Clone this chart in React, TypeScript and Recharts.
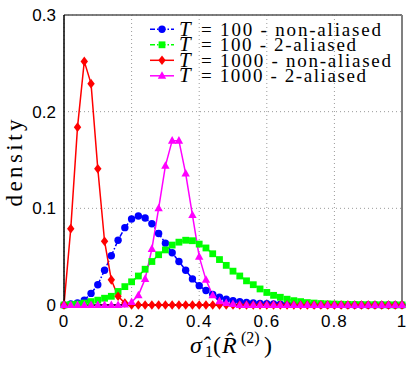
import { CartesianGrid, Label, Line, LineChart, ReferenceLine, XAxis, YAxis } from 'recharts'

// sigma_1 grid (step 0.02)
const sigmaGrid = [
  0, 0.02, 0.04, 0.06, 0.08, 0.1, 0.12, 0.14, 0.16, 0.18, 0.2, 0.22, 0.24, 0.26, 0.28, 0.3, 0.32, 0.34, 0.36, 0.38, 0.4,
  0.42, 0.44, 0.46, 0.48, 0.5, 0.52, 0.54, 0.56, 0.58, 0.6, 0.62, 0.64, 0.66, 0.68, 0.7, 0.72, 0.74, 0.76, 0.78, 0.8,
  0.82, 0.84, 0.86, 0.88, 0.9, 0.92, 0.94, 0.96, 0.98, 1,
]

const t100NonAliased = [
  0, 0.001, 0.002, 0.005, 0.012, 0.021, 0.036, 0.051, 0.067, 0.08, 0.089, 0.092, 0.09, 0.084, 0.074, 0.064, 0.054, 0.045,
  0.036, 0.027, 0.02, 0.015, 0.011, 0.008, 0.006, 0.0045, 0.0035, 0.0027, 0.002, 0.0016, 0.0013, 0.001, 0.0008, 0.0007,
  0.0006, 0.0005, 0.0004, 0.0003, 0.0003, 0.0002, 0.0002, 0.0002, 0.0001, 0.0001, 0.0001, 0.0001, 0.0001, 0, 0, 0, 0,
]

const t100Aliased2 = [
  0, 0.0005, 0.001, 0.002, 0.0035, 0.005, 0.007, 0.009, 0.014, 0.019, 0.024, 0.03, 0.037, 0.045, 0.052, 0.057, 0.062,
  0.065, 0.067, 0.0665, 0.063, 0.059, 0.053, 0.047, 0.041, 0.035, 0.03, 0.025, 0.021, 0.0166, 0.013, 0.01, 0.008, 0.006,
  0.0045, 0.0035, 0.0025, 0.002, 0.0015, 0.0012, 0.001, 0.0008, 0.0006, 0.0005, 0.0004, 0.0003, 0.0003, 0.0002, 0.0002,
  0.0001, 0.0001,
]

const t1000NonAliased = [
  0, 0.079, 0.184, 0.252, 0.229, 0.141, 0.066, 0.026, 0.009, 0.002, 0, 0, 0, 0, 0, 0, 0, 0, 0, 0, 0, 0, 0, 0, 0, 0, 0,
  0, 0, 0, 0, 0, 0, 0, 0, 0, 0, 0, 0, 0, 0, 0, 0, 0, 0, 0, 0, 0, 0, 0, 0,
]

const t1000Aliased2 = [
  0, 0, 0, 0, 0, 0, 0, 0, 0, 0.0005, 0.003, 0.01, 0.027, 0.058, 0.1, 0.144, 0.17, 0.17, 0.136, 0.093, 0.05, 0.026, 0.01,
  0.004, 0.002, 0.001, 0, 0, 0, 0, 0, 0, 0, 0, 0, 0, 0, 0, 0, 0, 0, 0, 0, 0, 0, 0, 0, 0, 0, 0, 0,
]

const xTicks = [0, 0.2, 0.4, 0.6, 0.8, 1]
const yTicks = [0, 0.1, 0.2, 0.3]

const legendRows = [
  { rest: '= 100 - non-aliased', width: 180, color: '#0000ff', marker: 'circle', dash: '5 2 1.5 2' },
  { rest: '= 100 - 2-aliased', width: 155, color: '#00ff00', marker: 'square', dash: '5 2 1.5 2' },
  { rest: '= 1000 - non-aliased', width: 190, color: '#ff0000', marker: 'diamond', dash: undefined },
  { rest: '= 1000 - 2-aliased', width: 165, color: '#ff00ff', marker: 'triangle', dash: undefined },
]

const data = sigmaGrid.map((x, i) => ({
  x,
  t100: t100NonAliased[i],
  t100a: t100Aliased2[i],
  t1000: t1000NonAliased[i],
  t1000a: t1000Aliased2[i],
}))

const serif = 'Liberation Serif'
const sans = 'Liberation Sans'

function markerShape(kind: string, cx: number, cy: number, color: string, key?: string | number) {
  if (kind === 'circle') return <circle key={key} cx={cx} cy={cy} r={3.7} fill={color} />
  if (kind === 'square') return <rect key={key} x={cx - 3.4} y={cy - 3.4} width={6.8} height={6.8} fill={color} />
  if (kind === 'diamond')
    return <path key={key} d={`M${cx},${cy - 4.8} L${cx + 3.7},${cy} L${cx},${cy + 4.8} L${cx - 3.7},${cy} Z`} fill={color} />
  return <path key={key} d={`M${cx},${cy - 4.6} L${cx + 4.2},${cy + 3} L${cx - 4.2},${cy + 3} Z`} fill={color} />
}

const dotFor = (kind: string, color: string) => (p: any) => markerShape(kind, p.cx, p.cy, color, `${kind}-${p.index}`)

function LegendBox() {
  return (
    <svg width={415} height={100} style={{ position: 'absolute', left: 0, top: 0 }}>
      {legendRows.map((row, i) => {
        const base = 35.5 + i * 15.5
        const my = base - 6.2
        return (
          <g key={row.rest}>
            <line x1={150} x2={174} y1={my} y2={my} stroke={row.color} strokeWidth={1.5} strokeDasharray={row.dash} />
            {markerShape(row.marker, 162, my, row.color)}
            <text x={179} y={base} fontFamily={serif} fontSize={19}>
              <tspan fontStyle="italic" fontSize={21}>T</tspan>
              <tspan x={201} textLength={row.width} lengthAdjust="spacing">
                {row.rest}
              </tspan>
            </text>
          </g>
        )
      })}
    </svg>
  )
}

export default function App() {
  return (
    <div style={{ position: 'absolute', left: 0, top: 0, width: 415, height: 365, background: '#fff' }}>
      <LineChart width={415} height={365} data={data} margin={{ top: 15, right: 13, bottom: 0, left: 0 }}>
        <CartesianGrid stroke="#9a9a9a" strokeDasharray="1 3" />
        <XAxis
          dataKey="x"
          type="number"
          domain={[0, 1]}
          ticks={xTicks}
          height={60}
          tickLine={false}
          tickMargin={4}
          axisLine={{ stroke: '#000', strokeWidth: 1.5 }}
          tick={{ fill: '#000', fontSize: 17, fontFamily: sans, letterSpacing: 1 }}
        >
          <Label
            content={() => (
              <text x={190} y={353} fontFamily={serif} fontSize={24} fill="#000">
                <tspan fontStyle="italic">σ̂</tspan>
                <tspan x={205} dy={4} fontSize={16}>1</tspan>
                <tspan x={213} dy={-4}>(</tspan>
                <tspan x={222} fontStyle="italic">R̂</tspan>
                <tspan x={241} dy={-10} fontSize={16}>(2)</tspan>
                <tspan x={264} dy={10}>)</tspan>
              </text>
            )}
          />
        </XAxis>
        <YAxis
          type="number"
          domain={[0, 0.3]}
          ticks={yTicks}
          width={64}
          tickLine={false}
          axisLine={{ stroke: '#000', strokeWidth: 1.5 }}
          tick={{ fill: '#000', fontSize: 17, fontFamily: sans }}
        >
          <Label
            content={() => (
              <text
                x={22}
                y={163}
                transform="rotate(-90 22 163)"
                textAnchor="middle"
                fontFamily={serif}
                fontSize={23}
                textLength={87}
                lengthAdjust="spacing"
                fill="#000"
              >
                density
              </text>
            )}
          />
        </YAxis>
        <ReferenceLine y={0.3} stroke="#555" strokeWidth={1.5} />
        <ReferenceLine x={1} stroke="#808080" strokeWidth={2} />
        <Line dataKey="t100" stroke="#0000ff" strokeWidth={1.5} strokeDasharray="5 2 1.5 2" dot={dotFor('circle', '#0000ff')} isAnimationActive={false} />
        <Line dataKey="t100a" stroke="#00ff00" strokeWidth={1.5} strokeDasharray="5 2 1.5 2" dot={dotFor('square', '#00ff00')} isAnimationActive={false} />
        <Line dataKey="t1000" stroke="#ff0000" strokeWidth={1.5} dot={dotFor('diamond', '#ff0000')} isAnimationActive={false} />
        <Line dataKey="t1000a" stroke="#ff00ff" strokeWidth={1.5} dot={dotFor('triangle', '#ff00ff')} isAnimationActive={false} />
      </LineChart>
      <LegendBox />
    </div>
  )
}
